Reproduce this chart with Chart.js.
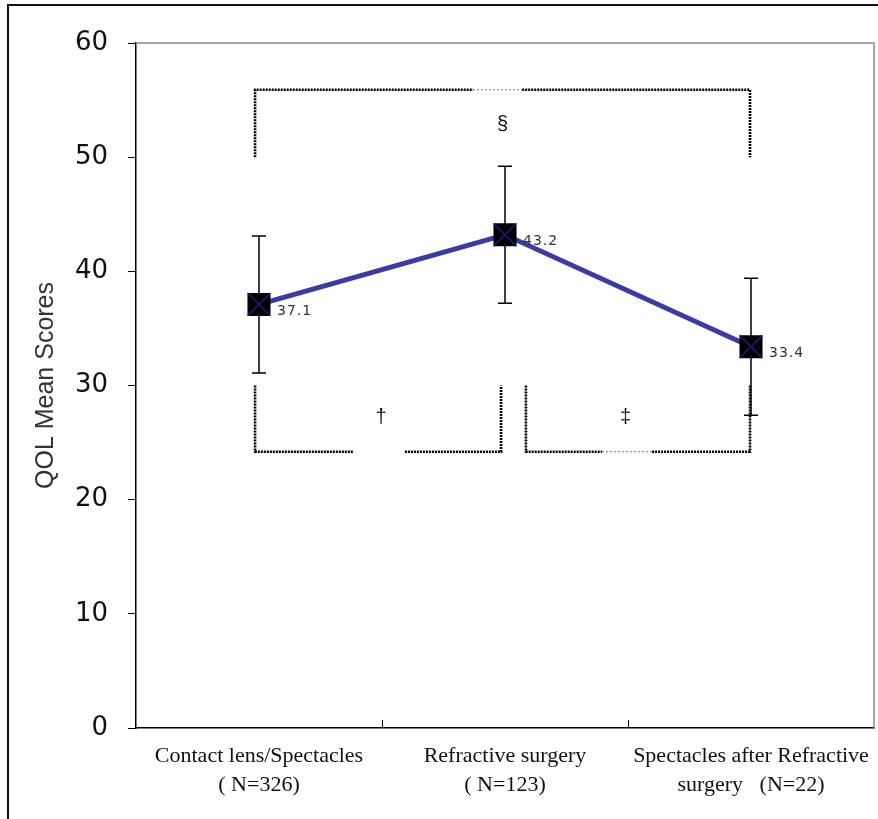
<!DOCTYPE html>
<html>
<head>
<meta charset="utf-8">
<script src="https://cdn.jsdelivr.net/npm/chart.js@4/dist/chart.umd.min.js"></script>
<style>
  html, body { margin: 0; padding: 0; background: #ffffff; }
  #wrap { position: relative; width: 878px; height: 819px; }
  canvas { display: block; }
</style>
</head>
<body>
<div id="wrap"><canvas id="c" width="878" height="819"></canvas></div>
<script>
// ---- data ----
const categories = [
  ['Contact lens/Spectacles', '( N=326)'],
  ['Refractive surgery', '( N=123)'],
  ['Spectacles after Refractive', 'surgery   (N=22)']
];
const means = [37.1, 43.2, 33.4];
const sdValues = [6.0, 6.0, 6.0];
const valueLabels = ['37.1', '43.2', '33.4'];

// significance brackets (x in category units, y in score units; null = break)
const topBracketX = [-0.016, -0.016, 0.87, null, 1.07, 1.996, 1.996];
const topBracketY = [50, 55.9, 55.9, null, 55.9, 55.9, 50];
const topBracketThinX = [0.87, 1.07];
const topBracketThinY = [55.9, 55.9];
const leftBracketX = [-0.016, -0.016, 0.382, null, 0.593, 0.984, 0.984];
const leftBracketY = [30, 24.2, 24.2, null, 24.2, 24.2, 30];
const rightBracketX = [1.085, 1.085, 1.394, null, 1.598, 1.996, 1.996];
const rightBracketY = [30, 24.2, 24.2, null, 24.2, 24.2, 30];
const rightBracketThinX = [1.394, 1.598];
const rightBracketThinY = [24.2, 24.2];

const sigSymbols = ['§', '†', '‡'];
const sigSymbolX = [0.99, 0.496, 1.49];
const sigSymbolY = [52.9, 27.2, 27.2];

const yTitle = 'QOL Mean Scores';

// ---- helpers ----
function pts(xs, ys) {
  return xs.map((x, i) => (x === null ? { x: null, y: null } : { x: x, y: ys[i] }));
}
function bracketDataset(xs, ys, thin) {
  return {
    type: 'line',
    xAxisID: 'x2',
    data: pts(xs, ys),
    borderColor: thin ? '#777777' : '#000000',
    borderWidth: thin ? 1 : 2.6,
    borderDash: thin ? [2, 2] : [2, 1],
    pointRadius: 0,
    spanGaps: false,
    tension: 0,
    order: 5
  };
}

const framePlugin = {
  id: 'frame',
  beforeDraw(chart) {
    const ctx = chart.ctx;
    ctx.save();
    ctx.fillStyle = '#ffffff';
    ctx.fillRect(0, 0, chart.width, chart.height);
    ctx.strokeStyle = '#111111';
    ctx.lineWidth = 2;
    ctx.beginPath();
    ctx.moveTo(8, chart.height);
    ctx.lineTo(8, 5);
    ctx.lineTo(chart.width, 5);
    ctx.stroke();
    ctx.restore();
  },
  afterDraw(chart) {
    const ctx = chart.ctx;
    const a = chart.chartArea;
    const x2 = chart.scales.x2;
    ctx.save();
    // gray top/right plot border
    ctx.strokeStyle = '#8a8a8a';
    ctx.lineWidth = 1.5;
    ctx.beginPath();
    ctx.moveTo(a.left, a.top);
    ctx.lineTo(a.right, a.top);
    ctx.lineTo(a.right, a.bottom);
    ctx.stroke();
    // inner category boundary ticks on x axis
    ctx.strokeStyle = '#000000';
    ctx.lineWidth = 1;
    for (let i = 0; i < categories.length - 1; i++) {
      const px = Math.round(x2.getPixelForValue(i + 0.5)) + 0.5;
      ctx.beginPath();
      ctx.moveTo(px, a.bottom);
      ctx.lineTo(px, a.bottom - 8);
      ctx.stroke();
    }
    ctx.restore();
  }
};

const errorBarPlugin = {
  id: 'errorBars',
  beforeDatasetsDraw(chart) {
    const ctx = chart.ctx;
    const xs = chart.scales.x, ys = chart.scales.y;
    ctx.save();
    ctx.strokeStyle = '#000000';
    ctx.lineWidth = 1.5;
    means.forEach((m, i) => {
      const px = xs.getPixelForValue(i);
      const top = ys.getPixelForValue(m + sdValues[i]);
      const bot = ys.getPixelForValue(m - sdValues[i]);
      ctx.beginPath();
      ctx.moveTo(px, top); ctx.lineTo(px, bot);
      ctx.moveTo(px - 7, top); ctx.lineTo(px + 7, top);
      ctx.moveTo(px - 7, bot); ctx.lineTo(px + 7, bot);
      ctx.stroke();
    });
    ctx.restore();
  },
  afterDatasetsDraw(chart) {
    const ctx = chart.ctx;
    const xs = chart.scales.x, ys = chart.scales.y, x2 = chart.scales.x2;
    ctx.save();
    // value labels
    ctx.fillStyle = '#333333';
    ctx.font = '14px "DejaVu Sans"';
    ctx.textAlign = 'left';
    ctx.textBaseline = 'middle';
    if (ctx.letterSpacing !== undefined) ctx.letterSpacing = '1px';
    means.forEach((m, i) => {
      const px = xs.getPixelForValue(i);
      const py = ys.getPixelForValue(m);
      ctx.fillText(valueLabels[i], px + 18, py + 7);
    });
    if (ctx.letterSpacing !== undefined) ctx.letterSpacing = '0px';
    // significance symbols
    ctx.fillStyle = '#111111';
    ctx.font = '20px "Liberation Sans"';
    ctx.textAlign = 'center';
    sigSymbols.forEach((s, i) => {
      ctx.fillText(s, x2.getPixelForValue(sigSymbolX[i]), ys.getPixelForValue(sigSymbolY[i]));
    });
    ctx.restore();
  }
};

new Chart(document.getElementById('c'), {
  type: 'line',
  data: {
    labels: categories,
    datasets: [
      {
        data: means,
        showLine: false,
        pointStyle: 'crossRot',
        pointRadius: 16,
        pointHoverRadius: 16,
        pointBorderColor: '#1a1a80',
        pointBorderWidth: 1.5,
        order: 0
      },
      {
        data: means,
        borderColor: '#3b3ba8',
        borderWidth: 5,
        pointStyle: 'rect',
        pointRadius: 16.3,
        pointHoverRadius: 16.3,
        pointBackgroundColor: '#000000',
        pointBorderColor: '#000000',
        pointBorderWidth: 0,
        tension: 0,
        order: 1
      },
      bracketDataset(topBracketX, topBracketY, false),
      bracketDataset(topBracketThinX, topBracketThinY, true),
      bracketDataset(leftBracketX, leftBracketY, false),
      bracketDataset(rightBracketX, rightBracketY, false),
      bracketDataset(rightBracketThinX, rightBracketThinY, true)
    ]
  },
  options: {
    responsive: false,
    animation: false,
    events: [],
    layout: { autoPadding: false, padding: { top: 43, right: 4, left: 0, bottom: 0 } },
    plugins: { legend: { display: false }, tooltip: { enabled: false } },
    scales: {
      x: {
        type: 'category',
        offset: true,
        grid: { display: false, drawTicks: false },
        border: { display: true, color: '#000000', width: 1.5 },
        ticks: {
          color: '#111111',
          font: { family: '"Liberation Serif"', size: 22, lineHeight: 1.3 },
          padding: 14,
          maxRotation: 0,
          autoSkip: false
        },
        afterFit(scale) {
          scale.height = 91;
          scale.paddingLeft = 0;
          scale.paddingRight = 0;
        }
      },
      x2: {
        type: 'linear',
        display: false,
        min: -0.5,
        max: 2.5
      },
      y: {
        min: 0,
        max: 60,
        ticks: {
          stepSize: 10,
          color: '#111111',
          font: { family: '"DejaVu Sans"', size: 26 },
          padding: 20
        },
        grid: {
          drawOnChartArea: false,
          drawTicks: true,
          tickLength: 8,
          color: '#000000',
          lineWidth: 1
        },
        border: { display: true, color: '#000000', width: 1.5 },
        title: {
          display: true,
          text: yTitle,
          color: '#333333',
          font: { family: '"Liberation Sans"', size: 25 },
          padding: { top: 31, bottom: 0 }
        },
        afterFit(scale) {
          scale.width = 136;
          scale.paddingTop = 0;
          scale.paddingBottom = 0;
        }
      }
    }
  },
  plugins: [framePlugin, errorBarPlugin]
});
</script>
</body>
</html>
